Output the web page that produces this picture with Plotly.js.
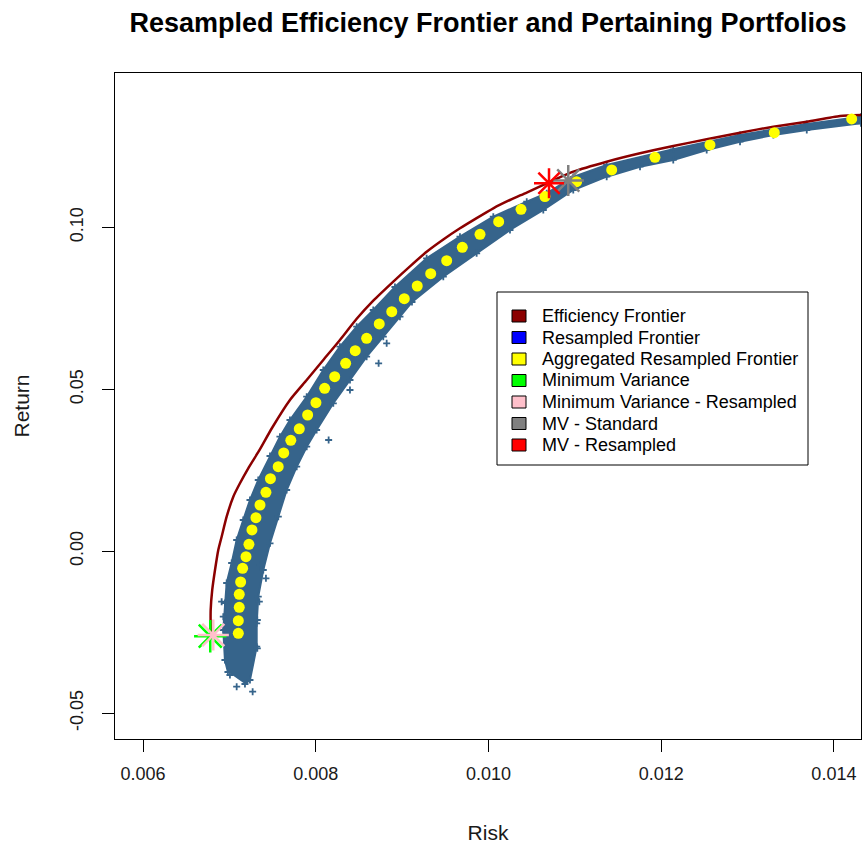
<!DOCTYPE html>
<html>
<head>
<meta charset="utf-8">
<script src="https://cdn.plot.ly/plotly-3.0.1.min.js"></script>
<style>html,body{margin:0;padding:0;background:#fff;}#chart{width:863px;height:845px;}</style>
</head>
<body>
<div id="chart"></div>
<script>
// Efficient frontier (dark red line)
var frontierRisk = [0.006783,0.006783,0.006801,0.006833,0.006871,0.006910,0.006968,0.007045,0.007122,0.007218,0.007342,0.007493,0.007701,0.007895,0.008087,0.008280,0.008474,0.008666,0.008898,0.009091,0.009284,0.009477,0.009670,0.009863,0.010056,0.010249,0.010443,0.010674,0.010982,0.011369,0.011755,0.012140,0.012527,0.012913,0.013299,0.013686,0.014071,0.014314];
var frontierReturn = [-0.02585,-0.01813,-0.01195,-0.00578,0.00040,0.00451,0.01069,0.01686,0.02100,0.02563,0.03098,0.03808,0.04673,0.05290,0.05908,0.06526,0.07180,0.07740,0.08330,0.08800,0.09250,0.09630,0.09975,0.10290,0.10593,0.10849,0.11080,0.11365,0.11723,0.12032,0.12291,0.12517,0.12724,0.12928,0.13113,0.13267,0.13443,0.13474];

// Resampled frontier cloud: upper/left edge and lower/right edge
var cloudUpperRisk = [0.006983,0.006948,0.006929,0.006948,0.006968,0.007026,0.007084,0.007160,0.007238,0.007334,0.007470,0.007585,0.007701,0.007895,0.008087,0.008280,0.008474,0.008666,0.008917,0.009284,0.009670,0.010056,0.010443,0.010674,0.010982,0.011369,0.012140,0.012913,0.013686,0.014314];
var cloudUpperReturn = [-0.03728,-0.03357,-0.02430,-0.01597,-0.00979,-0.00361,0.00349,0.00967,0.01584,0.02202,0.02943,0.03539,0.04055,0.04774,0.05599,0.06319,0.06936,0.07452,0.08162,0.09049,0.09716,0.10333,0.10797,0.11056,0.11560,0.11930,0.12415,0.12857,0.13196,0.13422];
var cloudLowerRisk = [0.007180,0.007238,0.007316,0.007316,0.007334,0.007392,0.007470,0.007566,0.007663,0.007779,0.007895,0.008010,0.008203,0.008396,0.008589,0.008782,0.008975,0.009114,0.009477,0.009863,0.010249,0.010635,0.010982,0.011369,0.011755,0.012140,0.012527,0.012913,0.013299,0.013686,0.014314];
var cloudLowerReturn = [-0.04098,-0.03975,-0.02946,-0.02224,-0.01402,-0.00578,0.00247,0.01069,0.01893,0.02613,0.03230,0.03746,0.04571,0.05290,0.06010,0.06627,0.07245,0.07699,0.08481,0.09203,0.09923,0.10540,0.11158,0.11569,0.11878,0.12085,0.12393,0.12650,0.12857,0.13011,0.13218];
var cloudOutlierRisk = [0.007354,0.007423,0.007346,0.007323,0.007323,0.007084,0.007269,0.006929,0.006910,0.007006,0.008821,0.008728,0.008396,0.008149];
var cloudOutlierReturn = [-0.00423,-0.00834,-0.01557,-0.02122,-0.02996,-0.04182,-0.04336,-0.02020,-0.01557,-0.03820,0.06424,0.05806,0.04981,0.03437];

// Aggregated resampled frontier (yellow dots)
var aggRisk = [0.007103,0.007103,0.007114,0.007114,0.007130,0.007153,0.007192,0.007226,0.007261,0.007307,0.007354,0.007423,0.007475,0.007565,0.007629,0.007711,0.007809,0.007906,0.008002,0.008103,0.008219,0.008346,0.008457,0.008589,0.008735,0.008880,0.009025,0.009175,0.009331,0.009516,0.009697,0.009902,0.010118,0.010377,0.010654,0.011021,0.011427,0.011928,0.012565,0.013310,0.014206];
var aggReturn = [-0.02532,-0.02143,-0.01729,-0.01328,-0.00948,-0.00525,-0.00167,0.00216,0.00658,0.01038,0.01430,0.01822,0.02242,0.02613,0.03036,0.03428,0.03783,0.04209,0.04589,0.05034,0.05392,0.05806,0.06195,0.06578,0.07020,0.07400,0.07801,0.08193,0.08573,0.08975,0.09388,0.09790,0.10179,0.10562,0.10957,0.11414,0.11776,0.12168,0.12548,0.12928,0.13351];

// Special portfolios
var minVarRisk = [0.006778], minVarReturn = [-0.02622];
var minVarResRisk = [0.006813], minVarResReturn = [-0.02585];
var mvStdRisk = [0.010924], mvStdReturn = [0.11451];
var mvResRisk = [0.010701], mvResReturn = [0.11365];

// Legend
var legendLabels = ["Efficiency Frontier","Resampled Frontier","Aggregated Resampled Frontier","Minimum Variance","Minimum Variance - Resampled","MV - Standard","MV - Resampled"];
var legendColors = ["#8B0000","#0000FF","#FFFF00","#00FF00","#FFC0CB","#808080","#FF0000"];

var xTicks = [0.006,0.008,0.010,0.012,0.014];
var xTickText = ["0.006","0.008","0.010","0.012","0.014"];
var yTicks = [-0.05,0.00,0.05,0.10];
var yTickText = ["-0.05","0.00","0.05","0.10"];

var cloudColor = "#36648B";
var polyX = cloudUpperRisk.concat(cloudLowerRisk.slice().reverse());
var polyY = cloudUpperReturn.concat(cloudLowerReturn.slice().reverse());

function star(x, y, color, size) {
  return {x: x, y: y, type: "scatter", mode: "markers", showlegend: false,
          marker: {symbol: "asterisk-open", size: size, color: color, line: {color: color, width: 2.5}}};
}

var traces = [
  {x: polyX, y: polyY, type: "scatter", mode: "lines", fill: "toself", fillcolor: cloudColor,
   line: {color: cloudColor, width: 2}, showlegend: false, hoverinfo: "skip"},
  {x: cloudUpperRisk.concat(cloudLowerRisk, cloudOutlierRisk), y: cloudUpperReturn.concat(cloudLowerReturn, cloudOutlierReturn),
   type: "scatter", mode: "markers", showlegend: false,
   marker: {symbol: "cross-thin-open", size: 5, color: cloudColor, line: {color: cloudColor, width: 1.8}}},
  {x: frontierRisk, y: frontierReturn, type: "scatter", mode: "lines", showlegend: false,
   line: {color: "#8B0000", width: 2.5, shape: "spline", smoothing: 0.6}},
  {x: aggRisk, y: aggReturn, type: "scatter", mode: "markers", showlegend: false,
   marker: {color: "#FFFF00", size: 11}},
  star(minVarRisk, minVarReturn, "#00FF00", 27),
  star(minVarResRisk, minVarResReturn, "#FFC0CB", 26),
  star(mvStdRisk, mvStdReturn, "#808080", 26),
  star(mvResRisk, mvResReturn, "#FF0000", 25)
];

// plot area in pixels: left 115, right 861, top 73, bottom 739
var PL = 115, PW = 746, PB = 739, PH = 666;
function px(x) { return (x - PL) / PW; }
function py(y) { return (PB - y) / PH; }

var font = "Liberation Sans, Arial, sans-serif";
var shapes = [{type: "rect", xref: "paper", yref: "paper", x0: px(497), x1: px(808), y0: py(465), y1: py(292),
               line: {color: "#000", width: 1}, fillcolor: "#fff", layer: "below"}];
var annotations = [];
for (var i = 0; i < legendLabels.length; i++) {
  var rowY = 316 + 21.5 * i;
  shapes.push({type: "rect", xref: "paper", yref: "paper", x0: px(512), x1: px(526), y0: py(rowY + 6), y1: py(rowY - 6),
               line: {color: "#000", width: 1}, fillcolor: legendColors[i], layer: "above"});
  annotations.push({xref: "paper", yref: "paper", x: px(540), y: py(rowY), xanchor: "left", yanchor: "middle",
                    text: legendLabels[i], showarrow: false, font: {family: font, size: 18, color: "#000"}});
}

var layout = {
  width: 863, height: 845,
  margin: {l: 115, r: 2, t: 73, b: 106},
  paper_bgcolor: "#fff", plot_bgcolor: "#fff",
  font: {family: font, color: "#1a1a1a"},
  showlegend: false,
  title: {text: "<b>Resampled Efficiency Frontier and Pertaining Portfolios</b>",
          font: {family: font, size: 27, color: "#000"},
          x: 0.5, xref: "paper", xanchor: "center", y: 1 - 23 / 845, yref: "container", yanchor: "middle"},
  xaxis: {range: [0.005675, 0.014314], tickvals: xTicks, ticktext: xTickText,
          showgrid: false, zeroline: false, showline: true, mirror: true, linecolor: "#000", linewidth: 1,
          ticks: "outside", ticklen: 12, tickcolor: "#000", tickwidth: 1, ticklabelstandoff: 6,
          tickfont: {size: 18, family: font, color: "#1a1a1a"},
          title: {text: "Risk", font: {size: 21, family: font, color: "#1a1a1a"}, standoff: 42}},
  yaxis: {range: [-0.05797, 0.14771], tickvals: yTicks, ticktext: yTickText, tickangle: -90,
          showgrid: false, zeroline: false, showline: true, mirror: true, linecolor: "#000", linewidth: 1,
          ticks: "outside", ticklen: 12, tickcolor: "#000", tickwidth: 1, ticklabelstandoff: 12,
          tickfont: {size: 18, family: font, color: "#1a1a1a"},
          title: {text: "Return", font: {size: 21, family: font, color: "#1a1a1a"}, standoff: 31}},
  shapes: shapes,
  annotations: annotations
};
Plotly.newPlot("chart", traces, layout, {displayModeBar: false, staticPlot: true});
</script>
</body>
</html>
